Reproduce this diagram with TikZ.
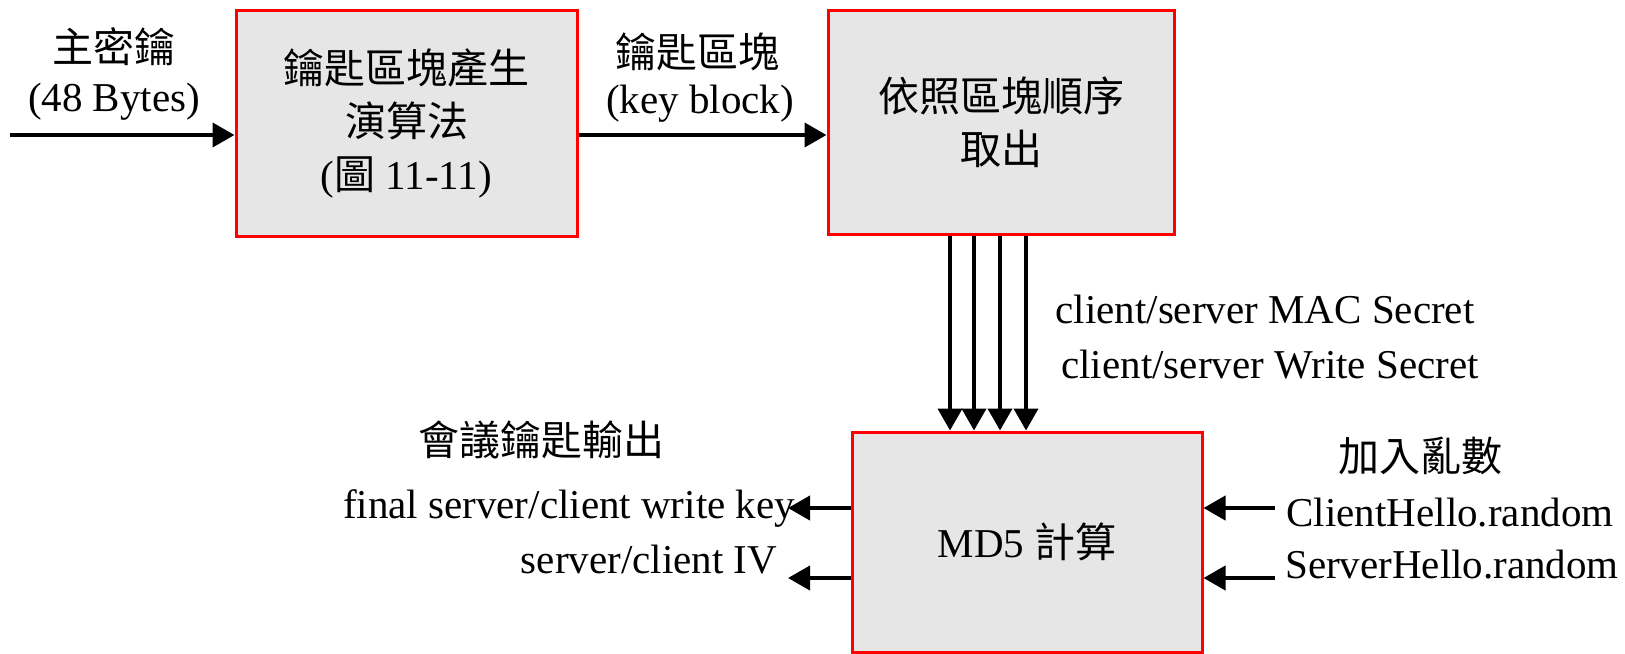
\documentclass[tikz,border=0pt]{standalone}
\usepackage{fontspec}
\setmainfont{Liberation Serif}
\newfontfamily\cjk{Noto Sans CJK TC}
\usetikzlibrary{arrows.meta}
\definecolor{boxgray}{RGB}{230,230,230}

\begin{document}
\begin{tikzpicture}[x=0.5pt,y=-0.5pt,
	blk/.style={draw=red, line width=1.5pt, fill=boxgray, inner sep=0pt, align=center, font=\fontsize{20.5}{26.5}\selectfont},
	arr/.style={line width=2pt, -{Triangle[length=11pt,width=12pt]}},
	lbl/.style={inner sep=0pt, font=\fontsize{20.5}{26}\selectfont}]

	\useasboundingbox (0,0) rectangle (1625,653);

	\node (gen) [blk, minimum width=170.5pt, minimum height=113pt] at (406.5,123) {{\cjk 鑰匙區塊產生}\\{\cjk 演算法}\\({\cjk 圖} 11-11)};
	\node (order) [blk, minimum width=173pt, minimum height=112pt] at (1001,122) {{\cjk 依照區塊順序}\\{\cjk 取出}};
	\node (md5) [blk, minimum width=175pt, minimum height=110pt] at (1027,542) {MD5 {\cjk 計算}};

	\node (m1) [lbl] at (114,47) {\cjk 主密鑰};
	\node (m2) [lbl] at (114,102) {(48 Bytes)};
	\node (k1) [lbl] at (697,52) {\cjk 鑰匙區塊};
	\node (k2) [lbl] at (700,104) {(key block)};
	\node (s1) [lbl] at (1265,309) {client/server MAC Secret};
	\node (s2) [lbl] at (1270,365) {client/server Write Secret};
	\node (o0) [lbl] at (541,440) {\cjk 會議鑰匙輸出};
	\node (o1) [lbl] at (569,508) {final server/client write key};
	\node (o2) [lbl] at (649,560) {server/client IV};
	\node (r0) [lbl] at (1420,456) {\cjk 加入亂數};
	\node (r1) [lbl] at (1450,513) {ClientHello.random};
	\node (r2) [lbl] at (1452,565) {ServerHello.random};

	\coordinate (in) at (10,135);
	\coordinate (out1) at (788,508);
	\coordinate (out2) at (788,578);
	\coordinate (rnd1) at (1275,508);
	\coordinate (rnd2) at (1275,578);

	\draw[arr] (in) -- (in -| gen.west);
	\draw[arr] (gen.east |- in) -- (order.west |- in);
	\foreach \x [count=\i] in {950,974,1000,1026} {
		\coordinate (v\i) at (\x,0);
		\draw[arr] (order.south -| v\i) -- (md5.north -| v\i);
	}
	\draw[arr] (md5.west |- out1) -- (out1);
	\draw[arr] (md5.west |- out2) -- (out2);
	\draw[arr] (rnd1) -- (md5.east |- rnd1);
	\draw[arr] (rnd2) -- (md5.east |- rnd2);

\end{tikzpicture}
\end{document}
